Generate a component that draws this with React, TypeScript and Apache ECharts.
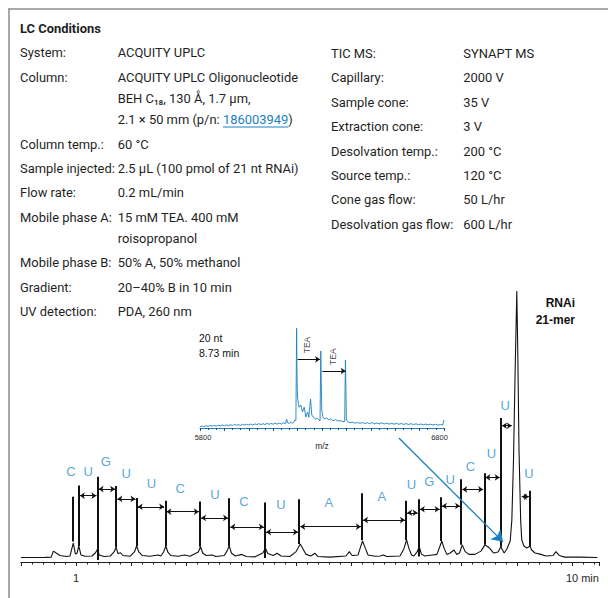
import React, { useEffect, useRef } from 'react';
import * as echarts from 'echarts';

// ---------- UV chromatogram (retention time, min / relative absorbance) ----------
const traceTime = [0.0, 0.44, 0.55, 0.59, 0.64, 0.71, 0.82, 0.89, 0.95, 0.99, 1.02, 1.05, 1.09, 1.16, 1.29, 1.35, 1.39, 1.42, 1.51, 1.62, 1.69, 1.73, 1.76, 1.81, 1.85, 1.98, 2.06, 2.1, 2.14, 2.2, 2.34, 2.49, 2.54, 2.59, 2.63, 2.67, 2.72, 2.85, 2.97, 3.07, 3.22, 3.26, 3.3, 3.36, 3.47, 3.54, 3.69, 3.74, 3.78, 3.82, 3.89, 4.01, 4.09, 4.25, 4.39, 4.44, 4.48, 4.58, 4.65, 4.72, 4.88, 4.99, 5.07, 5.12, 5.17, 5.26, 5.34, 5.39, 5.61, 5.9, 5.96, 6.01, 6.12, 6.17, 6.2, 6.25, 6.3, 6.43, 6.52, 6.58, 6.64, 6.88, 6.95, 7.0, 7.04, 7.09, 7.13, 7.19, 7.23, 7.27, 7.33, 7.47, 7.55, 7.6, 7.64, 7.68, 7.73, 7.79, 7.86, 7.91, 7.96, 8.01, 8.06, 8.13, 8.24, 8.35, 8.42, 8.48, 8.51, 8.58, 8.66, 8.71, 8.77, 8.82, 8.88, 8.91, 8.94, 8.97, 9.0, 9.02, 9.04, 9.07, 9.09, 9.13, 9.18, 9.24, 9.27, 9.33, 9.42, 9.53, 9.66, 9.71, 9.77, 9.87, 10.15, 10.46];
const traceIntensity = [1.65, 1.7, 1.8, 4.0, 3.3, 2.4, 2.0, 2.2, 6.9, 2.9, 3.3, 5.9, 2.6, 2.1, 2.2, 3.3, 4.7, 2.6, 2.0, 2.2, 3.7, 5.4, 3.1, 3.4, 2.4, 2.1, 3.7, 5.9, 3.7, 2.4, 2.1, 2.6, 2.2, 3.7, 5.9, 3.5, 2.4, 2.1, 2.6, 2.1, 3.7, 5.6, 3.3, 2.4, 2.6, 2.0, 2.4, 4.0, 5.9, 3.3, 2.2, 2.8, 2.0, 1.9, 3.3, 5.0, 3.1, 2.4, 3.2, 2.2, 2.0, 3.7, 6.6, 4.8, 2.9, 2.2, 3.2, 2.0, 1.8, 2.2, 3.8, 2.4, 2.6, 5.9, 7.7, 5.1, 2.6, 2.1, 2.2, 2.6, 2.0, 2.2, 4.8, 8.1, 5.1, 2.6, 2.2, 3.7, 5.6, 2.9, 2.2, 2.6, 2.8, 5.5, 7.7, 5.1, 2.8, 3.3, 4.4, 2.8, 3.3, 6.3, 3.9, 2.8, 2.8, 4.0, 6.3, 5.5, 5.0, 3.3, 3.7, 5.6, 3.3, 4.8, 7.7, 15.4, 37.5, 70.6, 99.6, 74.3, 41.2, 15.4, 8.1, 5.9, 5.1, 5.9, 4.4, 3.3, 2.9, 2.2, 2.4, 3.8, 2.4, 1.8, 1.8, 1.65];

// peak-marker bars (retention time, bar top, bar foot)
const barTime = [0.95, 1.05, 1.39, 1.73, 2.1, 2.62, 3.25, 3.78, 4.43, 5.05, 6.19, 6.99, 7.22, 7.62, 7.99, 8.41, 8.71, 9.24];
const barTop = [24.0, 28.1, 31.3, 27.9, 23.5, 22.5, 22.2, 23.4, 21.9, 23.1, 25.3, 22.5, 23.1, 23.8, 30.4, 32.6, 52.9, 26.2];
const barFoot = [7.5, 5.9, 0.7, 5.4, 5.9, 5.9, 5.6, 5.9, 1.5, 6.6, 8.0, 8.1, 2.0, 7.7, 6.3, 6.3, 5.6, 5.9];

// double-headed arrows between consecutive peaks
const arrowFrom = [1.05, 1.39, 1.73, 2.1, 2.62, 3.25, 3.78, 4.43, 5.05, 6.19, 6.99, 7.22, 7.62, 7.99, 8.41, 8.71, 9.07];
const arrowTo = [1.39, 1.73, 2.1, 2.62, 3.25, 3.78, 4.43, 5.05, 6.19, 6.99, 7.22, 7.62, 7.99, 8.41, 8.71, 8.93, 9.24];
const arrowLevel = [24.4, 26.8, 23.2, 20.3, 18.5, 16.2, 12.9, 11.0, 13.0, 15.4, 18.1, 19.4, 20.6, 26.7, 31.1, 50.1, 24.0];

// nucleotide letters
const letters = ['C', 'U', 'G', 'U', 'U', 'C', 'U', 'C', 'U', 'A', 'A', 'U', 'G', 'U', 'C', 'U', 'U', 'U'];
const letterTime = [0.91, 1.22, 1.54, 1.91, 2.37, 2.89, 3.52, 4.05, 4.72, 5.59, 6.55, 7.09, 7.41, 7.79, 8.16, 8.54, 8.79, 9.22];
const letterLevel = [33.1, 33.1, 36.9, 32.4, 29.0, 27.2, 25.0, 22.2, 21.0, 21.8, 24.0, 28.6, 29.5, 30.4, 35.0, 40.0, 57.4, 32.4];

// pointer from inset to the 20-nt peak (time, level)
const pointerFrom = [6.86, 45.6];
const pointerTo = [8.75, 7.4];

// x-axis labels
const mainTickLabels = [1, 10];

// ---------- inset mass spectrum (m/z, relative intensity) ----------
const msMz = [5800, 5808, 5816, 5825, 5833, 5841, 5850, 5858, 5866, 5875, 5883, 5891, 5900, 5908, 5916, 5925, 5933, 5941, 5950, 5958, 5966, 5975, 5983, 5991, 6000, 6008, 6016, 6025, 6033, 6041, 6050, 6058, 6066, 6075, 6083, 6091, 6100, 6108, 6116, 6125, 6133, 6141, 6150, 6155, 6160, 6166, 6172, 6178, 6183, 6189, 6193, 6196, 6198, 6200, 6206, 6213, 6220, 6227, 6234, 6241, 6246, 6253, 6258, 6265, 6273, 6281, 6288, 6292, 6295, 6299, 6304, 6311, 6319, 6327, 6335, 6345, 6355, 6366, 6377, 6386, 6393, 6396, 6400, 6407, 6415, 6425, 6435, 6445, 6455, 6465, 6475, 6485, 6495, 6505, 6515, 6525, 6535, 6545, 6555, 6565, 6575, 6585, 6595, 6605, 6615, 6625, 6635, 6645, 6655, 6665, 6675, 6685, 6695, 6705, 6715, 6725, 6735, 6745, 6755, 6765, 6775, 6785, 6795, 6800];
const msIntensity = [1.2, 2.0, 1.4, 2.2, 1.6, 2.4, 1.8, 2.6, 1.9, 2.8, 2.1, 3.0, 2.3, 3.1, 2.4, 3.3, 2.5, 3.6, 2.7, 3.4, 2.6, 3.7, 2.9, 3.8, 3.0, 4.0, 3.1, 4.1, 3.3, 4.4, 3.4, 4.3, 3.5, 4.6, 3.7, 4.5, 3.8, 4.8, 3.9, 4.9, 4.0, 5.2, 4.3, 8.7, 5.0, 4.6, 5.8, 4.8, 5.3, 8.0, 7.5, 99.7, 45, 29.7, 20.7, 23, 16, 20.7, 11, 16, 10.7, 29, 13, 10.7, 9, 9.7, 8, 7.3, 77, 18, 11, 9, 10.3, 8, 9.3, 7.3, 8.3, 7, 7.3, 6.3, 6.7, 68, 8, 6, 5.2, 6.0, 4.8, 5.6, 4.6, 5.5, 4.5, 5.3, 4.4, 5.4, 4.3, 5.0, 4.2, 5.1, 4.0, 4.9, 3.9, 4.7, 3.8, 4.6, 3.7, 4.5, 3.6, 4.4, 3.5, 4.3, 3.4, 4.2, 3.3, 4.0, 3.2, 3.9, 3.1, 3.8, 3.0, 3.7, 2.9, 3.4, 3.2, 8];
const teaFrom = [6200, 6301];
const teaTo = [6292, 6397];
const teaLevel = [68.7, 57];
const teaLabelMz = [6240, 6344];
const teaLabelLevel = [83, 71.3];
const msTickLabels = [5800, 6800];

// ---------- condition table ----------
const lcLabels = ['System:', 'Column:', '', '', 'Column temp.:', 'Sample injected:', 'Flow rate:', 'Mobile phase A:', '', 'Mobile phase B:', 'Gradient:', 'UV detection:'];
const lcValues = ['ACQUITY UPLC', 'ACQUITY UPLC Oligonucleotide', 'BEH C₁₈, 130 Å, 1.7 µm,', '2.1 × 50 mm (p/n: 186003949)', '60 °C', '2.5 µL (100 pmol of 21 nt RNAi)', '0.2 mL/min', '15 mM TEA. 400 mM', 'roisopropanol', '50% A, 50% methanol', '20–40% B in 10 min', 'PDA, 260 nm'];
const msLabels = ['TIC MS:', 'Capillary:', 'Sample cone:', 'Extraction cone:', 'Desolvation temp.:', 'Source temp.:', 'Cone gas flow:', 'Desolvation gas flow:'];
const msValues = ['SYNAPT MS', '2000 V', '35 V', '3 V', '200 °C', '120 °C', '50 L/hr', '600 L/hr'];
const partNumber = '186003949';

const INK = '#1f1f1f';
const BLUE = '#1a80c2';
const LETTER_BLUE = '#2a8fcb';
const condFont = 'Roboto, "Noto Sans", sans-serif';
const chartFont = '"Liberation Sans", Arial, sans-serif';
const COND_SIZE = 13.6;
const COND_SCALE = 0.95;

function measure(text: string, font: string): number {
  const ctx = document.createElement('canvas').getContext('2d');
  if (!ctx) return text.length * 6;
  ctx.font = font;
  return ctx.measureText(text).width;
}

export default function App() {
  const ref = useRef<HTMLDivElement>(null);

  useEffect(() => {
    if (!ref.current) return;
    const chart = echarts.init(ref.current, null, { renderer: 'svg' });

    // ---- condition text layout ----
    const graphics: any[] = [];
    const condStyle = { fontSize: COND_SIZE, fontFamily: condFont, fill: INK, verticalAlign: 'middle', align: 'left' };
    const condText = (x: number, y: number, style: any) =>
      ({ type: 'text', x, y, scaleX: COND_SCALE, scaleY: 1, style: { ...condStyle, ...style } });

    graphics.push({ type: 'line', shape: { x1: 8.5, y1: 9, x2: 608, y2: 9 }, style: { stroke: '#8c8c8c', lineWidth: 1.5 } });
    graphics.push({ type: 'line', shape: { x1: 9, y1: 8.3, x2: 9, y2: 598 }, style: { stroke: '#8c8c8c', lineWidth: 1.5 } });
    graphics.push(condText(20, 28, { text: 'LC Conditions', fontWeight: 'bold' }));

    let y = 52.7;
    lcLabels.forEach((lab, i) => {
      if (i > 0) y += lab === '' ? 21.4 : 24.3;
      if (lab) graphics.push(condText(20, y, { text: lab }));
      const val = lcValues[i];
      if (val.includes(partNumber)) {
        const [pre, post] = val.split(partNumber);
        graphics.push(condText(117.7, y, {
          text: `{n|${pre}}{l|${partNumber}}{n|${post}}`,
          rich: {
            n: { fontSize: COND_SIZE, fontFamily: condFont, fill: INK },
            l: { fontSize: COND_SIZE, fontFamily: condFont, fill: BLUE },
          },
        }));
        const f = `${COND_SIZE}px ${condFont}`;
        const x0 = 117.7 + measure(pre, f) * COND_SCALE;
        const x1 = x0 + measure(partNumber, f) * COND_SCALE;
        graphics.push({ type: 'line', shape: { x1: x0, y1: y + 7.2, x2: x1, y2: y + 7.2 }, style: { stroke: BLUE, lineWidth: 1 } });
      } else {
        graphics.push(condText(117.7, y, { text: val }));
      }
    });
    msLabels.forEach((lab, i) => {
      const yy = 53.3 + i * 24.4;
      graphics.push(condText(331, yy, { text: lab }));
      graphics.push(condText(463.3, yy, { text: msValues[i] }));
    });

    // annotations
    const annStyle = { fontFamily: chartFont, fill: '#111', verticalAlign: 'middle' };
    graphics.push({ type: 'text', x: 575, y: 302.5, style: { ...annStyle, text: 'RNAi', fontSize: 12, fontWeight: 'bold', align: 'right' } });
    graphics.push({ type: 'text', x: 575, y: 320, style: { ...annStyle, text: '21-mer', fontSize: 12, fontWeight: 'bold', align: 'right' } });
    graphics.push({ type: 'text', x: 199, y: 338, style: { ...annStyle, text: '20 nt', fontSize: 10.5, align: 'left' } });
    graphics.push({ type: 'text', x: 199, y: 352.7, style: { ...annStyle, text: '8.73 min', fontSize: 10.5, align: 'left' } });

    const option: any = {
      animation: false,
      backgroundColor: '#fff',
      textStyle: { fontFamily: chartFont },
      grid: [
        { left: 20.9, right: 8.55, top: 290, bottom: 36, outerBoundsMode: 'none' },
        { left: 200, right: 164, top: 327, bottom: 170, outerBoundsMode: 'none' },
      ],
      xAxis: [
        {
          type: 'value', gridIndex: 0, min: 0, max: 10.5, interval: 1,
          axisLine: { show: true, lineStyle: { color: INK, width: 1 } },
          axisTick: { show: true, length: 4, lineStyle: { color: INK, width: 1 } },
          minorTick: { show: true, splitNumber: 5, length: 2.5, lineStyle: { color: INK, width: 1 } },
          splitLine: { show: false },
          minorSplitLine: { show: false },
          axisLabel: {
            margin: 10.5, color: INK, fontSize: 11, fontFamily: chartFont,
            formatter: (v: number) => {
              if (v === mainTickLabels[0]) return `{c|${v}}`;
              if (v === mainTickLabels[1]) return `{m|${v} min}`;
              return '';
            },
            rich: {
              c: { fontSize: 11, color: INK, fontFamily: chartFont },
              m: { fontSize: 11, color: INK, fontFamily: chartFont, padding: [0, 0, 0, 21] },
            },
          },
        },
        {
          type: 'value', gridIndex: 1, min: 5800, max: 6800, interval: 100,
          name: 'm/z', nameLocation: 'middle', nameGap: 7,
          nameTextStyle: { fontSize: 8.5, color: INK, fontFamily: chartFont },
          axisLine: { show: true, lineStyle: { color: BLUE, width: 1 } },
          axisTick: { show: true, length: 3, lineStyle: { color: INK, width: 0.8 } },
          minorTick: { show: true, splitNumber: 3, length: 2, lineStyle: { color: INK, width: 0.8 } },
          splitLine: { show: false },
          minorSplitLine: { show: false },
          axisLabel: {
            margin: 5, color: INK, fontSize: 7.5, fontFamily: chartFont,
            formatter: (v: number) => {
              if (v === msTickLabels[0]) return `{a|${v}}`;
              if (v === msTickLabels[1]) return `{b|${v}}`;
              return '';
            },
            rich: {
              a: { fontSize: 7.5, color: INK, fontFamily: chartFont, padding: [0, 0, 0, 6] },
              b: { fontSize: 7.5, color: INK, fontFamily: chartFont, padding: [0, 9, 0, 0] },
            },
          },
        },
      ],
      yAxis: [
        { type: 'value', gridIndex: 0, min: 0, max: 100, show: false },
        { type: 'value', gridIndex: 1, min: 0, max: 101, show: false },
      ],
      series: [
        {
          type: 'line', xAxisIndex: 0, yAxisIndex: 0, showSymbol: false, symbol: 'none', z: 3,
          lineStyle: { color: '#111', width: 1.1 },
          data: traceTime.map((t, i) => [t, traceIntensity[i]]),
        },
        {
          type: 'lines', coordinateSystem: 'cartesian2d', xAxisIndex: 0, yAxisIndex: 0, z: 4,
          symbol: 'none',
          lineStyle: { color: '#111', width: 2, opacity: 1 },
          data: barTime.map((t, i) => ({ coords: [[t, barFoot[i]], [t, barTop[i]]] })),
        },
        {
          type: 'lines', coordinateSystem: 'cartesian2d', xAxisIndex: 0, yAxisIndex: 0, z: 4,
          symbol: ['arrow', 'arrow'], symbolSize: 5,
          lineStyle: { color: '#111', width: 1.2, opacity: 1 },
          data: arrowFrom.map((t, i) => ({ coords: [[t + 0.02, arrowLevel[i]], [arrowTo[i] - 0.02, arrowLevel[i]]] })),
        },
        {
          type: 'scatter', xAxisIndex: 0, yAxisIndex: 0, z: 5,
          symbol: 'circle', symbolSize: 1, itemStyle: { color: 'rgba(0,0,0,0)' },
          label: { show: true, position: 'inside', formatter: '{b}', color: LETTER_BLUE, fontSize: 13, fontFamily: chartFont },
          data: letters.map((l, i) => ({ name: l, value: [letterTime[i], letterLevel[i]] })),
        },
        {
          type: 'lines', coordinateSystem: 'cartesian2d', xAxisIndex: 0, yAxisIndex: 0, z: 6,
          symbol: ['none', 'arrow'], symbolSize: 11,
          lineStyle: { color: BLUE, width: 1.3, opacity: 1 },
          data: [{ coords: [pointerFrom, pointerTo] }],
        },
        {
          type: 'line', xAxisIndex: 1, yAxisIndex: 1, showSymbol: false, symbol: 'none', z: 3,
          lineStyle: { color: BLUE, width: 0.9 },
          data: msMz.map((m, i) => [m, msIntensity[i]]),
        },
        {
          type: 'lines', coordinateSystem: 'cartesian2d', xAxisIndex: 1, yAxisIndex: 1, z: 4,
          symbol: ['none', 'arrow'], symbolSize: 5,
          lineStyle: { color: '#111', width: 1, opacity: 1 },
          data: teaFrom.map((m, i) => ({ coords: [[m, teaLevel[i]], [teaTo[i], teaLevel[i]]] })),
        },
        {
          type: 'scatter', xAxisIndex: 1, yAxisIndex: 1, z: 5,
          symbol: 'circle', symbolSize: 1, itemStyle: { color: 'rgba(0,0,0,0)' },
          label: { show: true, position: 'inside', formatter: '{b}', rotate: 90, color: '#111', fontSize: 8.5, fontFamily: chartFont },
          data: teaLabelMz.map((m, i) => ({ name: 'TEA', value: [m, teaLabelLevel[i]] })),
        },
      ],
      graphic: graphics,
    };

    chart.setOption(option);
    return () => chart.dispose();
  }, []);

  return (
    <div
      ref={ref}
      style={{ position: 'absolute', left: 0, top: 0, width: 608, height: 598, background: '#fff' }}
    />
  );
}
